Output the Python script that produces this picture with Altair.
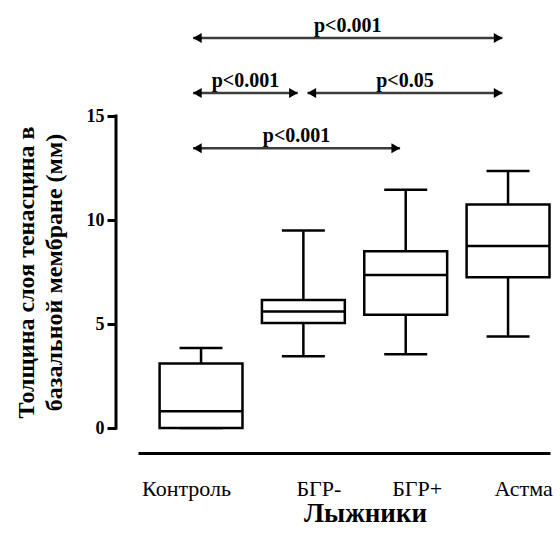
import json
import altair as alt
import pandas as pd

# ---- data ----
categories = ["Контроль", "БГР-", "БГР+", "Астма"]
whisker_low = [0.0, 3.45, 3.55, 4.4]
q1 = [0.0, 5.05, 5.45, 7.25]
median = [0.8, 5.6, 7.35, 8.75]
q3 = [3.1, 6.15, 8.5, 10.75]
whisker_high = [3.85, 9.5, 11.45, 12.35]

arrow_from = ["Контроль", "Контроль", "БГР-", "Контроль"]
arrow_to = ["Астма", "БГР-", "Астма", "БГР+"]
arrow_level = [18.75, 16.1, 16.1, 13.45]
arrow_label = ["p<0.001", "p<0.001", "p<0.05", "p<0.001"]

y_ticks = [0, 5, 10, 15]

y_title = ["Толщина слоя тенасцина в", "базальной мембране (мм)"]
x_title = "Лыжники"

# ---- tables ----
boxes = pd.DataFrame({
    "cat": categories,
    "lo": whisker_low, "q1": q1, "med": median, "q3": q3, "hi": whisker_high,
})
boxes["pos"] = [categories.index(c) for c in categories]

arrows = pd.DataFrame({
    "from": arrow_from, "to": arrow_to, "level": arrow_level, "label": arrow_label,
})
arrows["pf"] = [categories.index(c) for c in arrow_from]
arrows["pt"] = [categories.index(c) for c in arrow_to]

axis_df = pd.DataFrame({"y0": [min(y_ticks)], "y1": [max(y_ticks)]})

SERIF = "'Times New Roman', 'Liberation Serif', serif"

x_scale = alt.Scale(domain=[-0.616, 3.41], nice=False, zero=False)
y_scale = alt.Scale(domain=[0, 20], nice=False, zero=False)

label_expr = json.dumps(categories, ensure_ascii=False) + "[datum.value]"

x_axis = alt.Axis(
    values=list(range(len(categories))),
    labelExpr=label_expr,
    title=x_title,
    titleFont=SERIF, titleFontSize=27, titleFontWeight="bold", titleColor="black",
    titleX=227, titleY=68, titleAlign="center", titleBaseline="alphabetic",
    labelFont=SERIF, labelFontSize=22, labelColor="black",
    labelBaseline="alphabetic", labelPadding=42,
    labelOffset={"condition": [{"test": "datum.value == 0", "value": -15},
                               {"test": "datum.value == 2", "value": 11}],
                 "value": 15},
    ticks=False, tickSize=0,
    domain=True, domainWidth=3, domainColor="black",
    grid=False, offset=25,
)

y_axis = alt.Axis(
    values=y_ticks,
    title=y_title,
    titleFont=SERIF, titleFontSize=24, titleFontWeight="bold", titleColor="black",
    titleAngle=270, titleX=-83, titleY=260, titleAlign="center",
    titleBaseline="alphabetic", titleLineHeight=28,
    labelFont=SERIF, labelFontSize=18, labelFontWeight="bold", labelColor="black",
    labelPadding=3,
    ticks=True, tickSize=9, tickWidth=3, tickColor="black",
    domain=False, grid=False, offset=22,
)


def X(field):
    return alt.X(field, type="quantitative", scale=x_scale, axis=x_axis)


def Y(field):
    return alt.Y(field, type="quantitative", scale=y_scale, axis=y_axis)


base_box = alt.Chart(boxes).transform_calculate(
    xl="datum.pos - 0.405", xr="datum.pos + 0.405",
    cl="datum.pos - 0.21", cr="datum.pos + 0.21",
)

whisk_hi = base_box.mark_rule(color="black", strokeWidth=2.5).encode(
    x=X("pos"), y=Y("q3"), y2="hi")
whisk_lo = base_box.mark_rule(color="black", strokeWidth=2.5).encode(
    x=X("pos"), y=Y("lo"), y2="q1")
cap_hi = base_box.mark_rule(color="black", strokeWidth=2.5).encode(
    x=X("cl"), x2="cr", y=Y("hi"))
cap_lo = base_box.mark_rule(color="black", strokeWidth=2.5).encode(
    x=X("cl"), x2="cr", y=Y("lo"))
box = base_box.mark_rect(fill="white", stroke="black", strokeWidth=2.5).encode(
    x=X("xl"), x2="xr", y=Y("q1"), y2="q3")
med = base_box.mark_rule(color="black", strokeWidth=2.5).encode(
    x=X("xl"), x2="xr", y=Y("med"))

axis_line = alt.Chart(axis_df).mark_rule(
    color="black", strokeWidth=3, strokeCap="square").encode(
    x=alt.value(-22), y=Y("y0"), y2="y1")

base_arrow = alt.Chart(arrows).transform_calculate(
    xa="datum.pf + (datum.pf == 0 ? -0.078 : 0.04)",
    xb="datum.pt - 0.055",
).transform_calculate(
    xm="(datum.xa + datum.xb) / 2",
)

arrow_line = base_arrow.mark_rule(color="#3c3c3c", strokeWidth=2.5).encode(
    x=X("xa"), x2="xb", y=Y("level"))
head_l = base_arrow.mark_point(
    shape="triangle-left", filled=True, size=100, color="black", opacity=1,
    xOffset=4.3).encode(x=X("xa"), y=Y("level"))
head_r = base_arrow.mark_point(
    shape="triangle-right", filled=True, size=100, color="black", opacity=1,
    xOffset=-4.3).encode(x=X("xb"), y=Y("level"))
p_text = base_arrow.mark_text(
    font=SERIF, fontSize=20, fontWeight="bold", color="black",
    align="center", baseline="alphabetic", dy=-6).encode(
    x=X("xm"), y=Y("level"), text="label:N")

chart = alt.layer(
    whisk_hi, whisk_lo, cap_hi, cap_lo, box, med, axis_line,
    arrow_line, head_l, head_r, p_text,
).properties(
    width=412, height=416,
    autosize=alt.AutoSizeParams(type="none"),
    padding={"left": 138, "top": 12, "right": 10, "bottom": 108},
    background="white",
).configure_view(stroke=None)

chart.save("out.html", embed_options={"renderer": "svg", "actions": False})
